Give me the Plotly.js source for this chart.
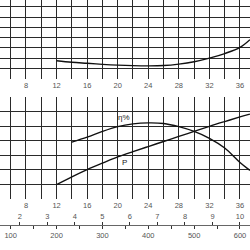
<!DOCTYPE html>
<html>
<head>
<meta charset="utf-8">
<script src="https://cdn.plot.ly/plotly-3.0.1.min.js"></script>
<style>html,body{margin:0;padding:0;background:#fff;}#chart{width:250px;height:250px;}</style>
</head>
<body>
<div id="chart"></div>
<script>
// Flow in m3/h (main axis)
const npshFlow = [12, 14, 16, 18, 20, 22, 24, 26, 28, 30, 32, 34, 36, 37.3];
const npshValues = [1.75, 1.6, 1.5, 1.4, 1.32, 1.27, 1.25, 1.28, 1.42, 1.65, 2.0, 2.45, 3.05, 3.8];

const effFlow = [14, 16, 18, 20, 22, 24, 26, 28, 30, 32, 34, 36, 37.3];
const effValues = [3.91, 4.25, 4.65, 4.98, 5.17, 5.24, 5.2, 4.98, 4.65, 4.17, 3.5, 2.5, 1.95];

const powerFlow = [12, 14, 16, 18, 20, 22, 24, 26, 28, 30, 32, 34, 36, 37.3];
const powerValues = [0.96, 1.5, 2.0, 2.45, 2.88, 3.25, 3.6, 3.95, 4.3, 4.65, 5.0, 5.33, 5.65, 5.85];

const effLabel = "η%";
const powerLabel = "P";

const X0 = 4.6, X1 = 37.31;
const M3H_PER_LS = 3.6;
const LMIN_PER_M3H = 1000 / 60;

const gridCol = '#2a2a2a';
const tickFont = {family: 'Liberation Sans, Arial, sans-serif', size: 7.5, color: '#555'};

const lineStyle = {color: '#111', width: 1.4, shape: 'spline'};

const traces = [
  {x: npshFlow, y: npshValues, xaxis: 'x', yaxis: 'y', mode: 'lines', line: lineStyle, hoverinfo: 'skip'},
  {x: effFlow, y: effValues, xaxis: 'x2', yaxis: 'y2', mode: 'lines', line: lineStyle, hoverinfo: 'skip'},
  {x: powerFlow, y: powerValues, xaxis: 'x2', yaxis: 'y2', mode: 'lines', line: lineStyle, hoverinfo: 'skip'},
  // secondary flow scales (no marks, only their axes)
  {x: [], y: [], xaxis: 'x3', yaxis: 'y3', mode: 'lines', hoverinfo: 'skip'},
  {x: [], y: [], xaxis: 'x4', yaxis: 'y3', mode: 'lines', hoverinfo: 'skip'}
];

const mainX = (anchor) => ({
  domain: [0, 1], range: [X0, X1], anchor: anchor,
  tick0: 0, dtick: 4, showgrid: true, gridcolor: gridCol, gridwidth: 1,
  minor: {dtick: 2, showgrid: true, gridcolor: gridCol, gridwidth: 1},
  zeroline: false, showline: false, ticks: '', ticklen: 0,
  tickfont: tickFont, fixedrange: true
});

const layout = {
  width: 250, height: 250,
  margin: {l: 0, r: 0, t: 0, b: 0},
  paper_bgcolor: '#fff', plot_bgcolor: 'rgba(0,0,0,0)',
  showlegend: false,
  xaxis: mainX('y'),
  yaxis: {domain: [0.684, 1], range: [-0.03, 7.67], dtick: 1, tick0: 0,
          showgrid: true, gridcolor: gridCol, zeroline: false, showticklabels: false},
  xaxis2: mainX('y2'),
  yaxis2: {domain: [0.204, 0.612], range: [-0.03, 7.03], dtick: 1, tick0: 0,
           showgrid: true, gridcolor: gridCol, zeroline: false, showticklabels: false},
  yaxis3: {domain: [0, 0.1], range: [0, 1], visible: false, showgrid: false, zeroline: false},
  xaxis3: {domain: [0, 1], anchor: 'free', position: 0.1, side: 'top',
           range: [X0 / M3H_PER_LS, X1 / M3H_PER_LS], tick0: 0, dtick: 1,
           ticks: 'outside', ticklen: 3, tickcolor: '#333', tickwidth: 1,
           showline: true, linecolor: '#666', linewidth: 1,
           showgrid: false, zeroline: false, tickfont: tickFont},
  xaxis4: {domain: [0, 1], anchor: 'free', position: 0.1, side: 'bottom',
           range: [X0 * LMIN_PER_M3H, X1 * LMIN_PER_M3H], tick0: 0, dtick: 100,
           ticks: 'outside', ticklen: 3, tickcolor: '#333', tickwidth: 1,
           minor: {dtick: 50, ticks: 'outside', ticklen: 3, tickcolor: '#333'},
           showline: true, linecolor: '#666', linewidth: 1,
           showgrid: false, zeroline: false, tickfont: tickFont},
  annotations: [
    {x: 20.8, y: 5.6, xref: 'x2', yref: 'y2', text: effLabel, showarrow: false,
     font: {family: 'Liberation Sans, Arial, sans-serif', size: 8, color: '#222'}},
    {x: 20.9, y: 2.5, xref: 'x2', yref: 'y2', text: powerLabel, showarrow: false,
     font: {family: 'Liberation Sans, Arial, sans-serif', size: 8, color: '#222'}}
  ]
};

Plotly.newPlot('chart', traces, layout, {staticPlot: true, displayModeBar: false});
</script>
</body>
</html>
